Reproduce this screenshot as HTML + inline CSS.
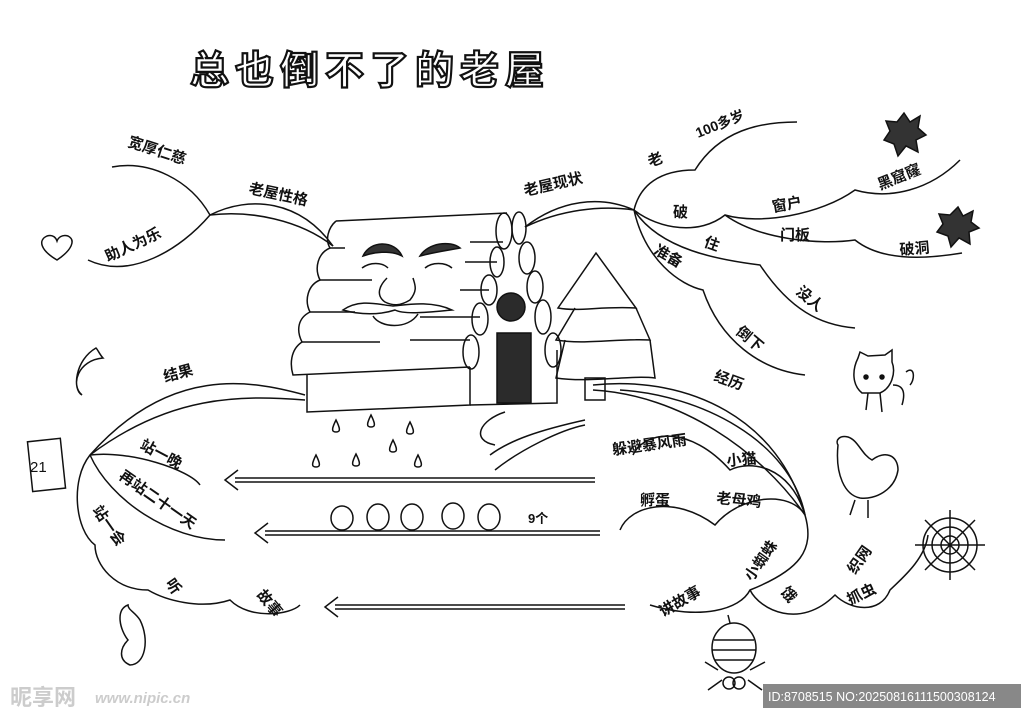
<!DOCTYPE html>
<html><head><meta charset="utf-8"><style>
html,body{margin:0;padding:0;background:#fff}
svg{display:block}
text{font-family:"Liberation Sans","Noto Sans CJK SC",sans-serif;font-weight:bold;font-size:15px;fill:#111}
</style></head><body>
<svg width="1024" height="724" viewBox="0 0 1024 724" xmlns="http://www.w3.org/2000/svg">
<rect width="1024" height="724" fill="#fff"/>
<g fill="none" stroke="#111" stroke-width="1.5">
<!-- title -->
<text x="190" y="84" style="font-size:39px;fill:#fff;stroke:#111;stroke-width:2.2;letter-spacing:6px">总也倒不了的老屋</text>

<!-- left top branches -->
<path d="M333,246 C300,200 250,195 210,215"/>
<path d="M333,246 C300,220 250,210 210,215"/>
<path d="M210,215 C190,180 150,160 112,167"/>
<path d="M210,215 C180,250 130,280 88,260"/>
<path d="M57,260 C40,250 38,240 47,236 C53,234 56,238 57,241 C58,238 62,234 68,236 C76,240 72,250 57,260Z"/>

<!-- house roof -->
<path d="M336,221 L507,213"/>
<path d="M336,221 C328,228 325,240 330,248 C318,253 314,268 320,280 C308,285 304,300 310,312 C298,318 296,330 302,342 C290,350 290,365 293,375 L470,367"/>
<path d="M330,248 L345,248 M320,280 L372,280 M310,312 L355,312 M302,342 L380,342 M470,340 L410,340 M480,317 L420,317 M489,290 L460,290 M497,262 L465,262 M503,242 L470,242"/>
<path d="M307,375 L307,412 L470,405 L470,367"/>
<path d="M470,405 L557,403 L557,350"/>
<g>
<ellipse cx="504" cy="231" rx="8" ry="18"/><ellipse cx="497" cy="262" rx="7" ry="15"/><ellipse cx="489" cy="290" rx="8" ry="15"/><ellipse cx="480" cy="319" rx="8" ry="16"/><ellipse cx="471" cy="352" rx="8" ry="17"/>
<ellipse cx="519" cy="228" rx="7" ry="16"/><ellipse cx="527" cy="258" rx="8" ry="16"/><ellipse cx="535" cy="287" rx="8" ry="16"/><ellipse cx="543" cy="317" rx="8" ry="17"/><ellipse cx="553" cy="350" rx="8" ry="17"/>
</g>
<rect x="497" y="333" width="34" height="70" fill="#2b2b2b"/>
<circle cx="511" cy="307" r="14" fill="#2b2b2b"/>
<path d="M363,256 C370,240 395,240 402,256 C395,252 380,250 363,256Z" fill="#333"/>
<path d="M420,256 C428,243 450,240 460,248 C450,250 435,252 420,256Z" fill="#333"/>
<path d="M362,268 C370,262 382,262 388,268 M425,268 C432,262 445,262 452,268"/>
<path d="M387,278 C380,285 375,295 385,302 C393,306 400,306 410,300 C418,290 415,285 413,278"/>
<path d="M343,310 C360,298 380,305 393,306 C405,305 430,300 452,310 C430,312 405,315 395,310 C380,315 360,315 343,310Z"/>
<path d="M373,316 C380,328 408,330 418,314"/>
<!-- tree -->
<path d="M596,253 L558,308 C580,312 600,306 636,308 Z"/>
<path d="M575,308 L556,340 C585,345 620,338 650,340 L636,308"/>
<path d="M565,340 L556,378 C590,383 630,375 655,378 L650,340"/>
<rect x="585" y="378" width="20" height="22"/>

<!-- 老屋现状 -->
<path d="M525,227 C560,200 600,195 634,210"/>
<path d="M525,227 C560,210 600,205 634,210"/>
<path d="M634,210 C640,185 660,170 695,170 C720,130 760,122 797,122"/>
<path d="M634,210 C660,230 700,235 725,215 C760,225 820,215 855,190 C890,200 930,190 960,160"/>
<path d="M725,215 C760,240 820,245 855,240 C880,260 920,260 962,253"/>
<path d="M634,210 C660,250 720,260 760,265 C790,310 820,325 855,328"/>
<path d="M634,210 C645,260 680,285 703,290 C720,340 760,370 805,375"/>
<path d="M904,113 L910,122 L920,116 L918,128 L926,135 L916,140 L918,152 L906,146 L898,156 L894,144 L884,140 L890,131 L886,121 L897,122Z" fill="#333"/>
<path d="M958,207 L963,216 L973,211 L971,222 L979,228 L969,232 L970,244 L959,238 L951,247 L948,236 L937,232 L943,224 L939,214 L950,215Z" fill="#333"/>

<!-- bottom left cloud -->
<path d="M305,395 C250,380 170,365 90,455"/>
<path d="M305,400 C240,395 170,395 90,455"/>
<path d="M90,455 C70,480 75,530 95,545 C95,565 115,590 148,590 C165,600 200,610 230,600 C250,620 290,615 300,605"/>
<path d="M90,455 C130,450 190,470 200,485"/>
<path d="M90,455 C110,500 170,540 225,540"/>
<path d="M96,348 C75,360 72,390 82,395 C70,385 78,360 103,358 C100,355 98,350 96,348Z"/>
<rect x="30" y="440" width="33" height="50" transform="rotate(-6 46 465)"/>
<path d="M128,605 C115,610 120,630 128,640 C120,648 118,660 130,665 C145,665 150,640 140,620 C135,612 128,610 128,605Z"/>

<!-- arrows -->
<path d="M595,478 L235,478 M595,482 L235,482 M238,470 L225,480 L238,490"/>
<path d="M600,531 L265,531 M600,535 L265,535 M268,523 L255,533 L268,543"/>
<path d="M625,605 L335,605 M625,609 L335,609 M338,597 L325,607 L338,617"/>
<!-- drops -->
<path d="M336,420 c-4,8 -5,12 0,12 c5,0 4,-4 0,-12Z M371,415 c-4,8 -5,12 0,12 c5,0 4,-4 0,-12Z M410,422 c-4,8 -5,12 0,12 c5,0 4,-4 0,-12Z M393,440 c-4,8 -5,12 0,12 c5,0 4,-4 0,-12Z M316,455 c-4,8 -5,12 0,12 c5,0 4,-4 0,-12Z M356,454 c-4,8 -5,12 0,12 c5,0 4,-4 0,-12Z M418,455 c-4,8 -5,12 0,12 c5,0 4,-4 0,-12Z"/>
<path d="M505,412 C480,420 470,440 495,445 M490,455 C510,440 540,430 585,420 M495,470 C520,450 560,430 585,425"/>
<g><ellipse cx="342" cy="518" rx="11" ry="12"/><ellipse cx="378" cy="517" rx="11" ry="13"/><ellipse cx="412" cy="517" rx="11" ry="13"/><ellipse cx="453" cy="516" rx="11" ry="13"/><ellipse cx="489" cy="517" rx="11" ry="13"/></g>

<!-- right cloud -->
<path d="M593,385 C690,375 780,420 805,515"/>
<path d="M593,390 C680,395 760,450 805,515"/>
<path d="M620,390 C700,395 790,440 805,515"/>
<path d="M633,455 C645,430 690,425 730,470 C750,460 790,465 805,515"/>
<path d="M620,530 C630,505 675,495 715,525 C740,495 790,490 805,515"/>
<path d="M805,515 C815,550 800,570 750,590 C740,610 700,620 650,605"/>
<path d="M750,590 C760,610 800,630 835,595 C850,610 880,615 890,590 C900,580 925,560 928,535"/>
<!-- cat -->
<path d="M858,358 L860,352 L868,356 L885,355 L892,350 L892,362 C896,372 892,388 880,393 L862,393 C852,385 852,370 858,358Z"/>
<circle cx="866" cy="377" r="2" fill="#111"/><circle cx="882" cy="377" r="2" fill="#111"/>
<path d="M868,393 L866,410 M880,393 L882,412 M893,385 C905,385 905,395 902,405 M906,372 C915,365 915,380 910,385"/>
<!-- chicken -->
<path d="M838,445 C835,440 840,435 848,437 C858,440 862,455 872,460 C885,450 898,455 898,470 C895,490 875,500 860,498 C845,495 835,475 838,445Z M855,500 L850,515 M868,500 L868,518"/>
<g transform="translate(950,545)"><circle r="27"/><circle r="18"/><circle r="9"/><path d="M-35,0 L35,0 M0,-35 L0,35 M-25,-25 L25,25 M-25,25 L25,-25"/></g>
<ellipse cx="734" cy="648" rx="22" ry="25"/><path d="M714,640 L754,640 M712,650 L756,650 M715,660 L753,660 M730,623 L728,615"/>
<circle cx="729" cy="683" r="6"/><circle cx="739" cy="683" r="6"/>
<path d="M718,670 L705,662 M750,670 L765,662 M722,680 L708,690 M748,680 L762,690"/>
</g>

<!-- labels -->
<text x="127" y="146" transform="rotate(18 127 146)">宽厚仁慈</text>
<text x="108" y="262" transform="rotate(-25 108 262)">助人为乐</text>
<text x="248" y="193" transform="rotate(12 248 193)">老屋性格</text>
<text x="525" y="196" transform="rotate(-13 525 196)">老屋现状</text>
<text x="650" y="167" transform="rotate(-20 650 167)">老</text>
<text x="698" y="138" transform="rotate(-22 698 138)" style="font-size:14px">100多岁</text>
<text x="673" y="217">破</text>
<text x="773" y="212" transform="rotate(-10 773 212)">窗户</text>
<text x="880" y="190" transform="rotate(-22 880 190)">黑窟窿</text>
<text x="780" y="240">门板</text>
<text x="900" y="255" transform="rotate(-5 900 255)">破洞</text>
<text x="703" y="246" transform="rotate(20 703 246)">住</text>
<text x="653" y="253" transform="rotate(30 653 253)">准备</text>
<text x="795" y="293" transform="rotate(40 795 293)">没人</text>
<text x="735" y="333" transform="rotate(40 735 333)">倒下</text>
<text x="713" y="380" transform="rotate(20 713 380)">经历</text>
<text x="165" y="382" transform="rotate(-15 165 382)">结果</text>
<text x="139" y="448" transform="rotate(28 139 448)">站一晚</text>
<text x="118" y="478" transform="rotate(35 118 478)">再站二十一天</text>
<text x="92" y="510" transform="rotate(55 92 510)">站一会</text>
<text x="165" y="583" transform="rotate(55 165 583)">听</text>
<text x="256" y="595" transform="rotate(50 256 595)">故事</text>
<text x="613" y="455" transform="rotate(-8 613 455)">躲避暴风雨</text>
<text x="727" y="466" transform="rotate(-5 727 466)">小猫</text>
<text x="640" y="505">孵蛋</text>
<text x="716" y="503" transform="rotate(5 716 503)">老母鸡</text>
<text x="528" y="523" style="font-size:13px">9个</text>
<text x="663" y="617" transform="rotate(-30 663 617)">讲故事</text>
<text x="752" y="582" transform="rotate(-55 752 582)">小蜘蛛</text>
<text x="780" y="592" transform="rotate(50 780 592)">饿</text>
<text x="855" y="575" transform="rotate(-55 855 575)">织网</text>
<text x="850" y="605" transform="rotate(-25 850 605)">抓虫</text>
<text x="30" y="472" style="font-size:15px;font-weight:normal">21</text>

<!-- watermarks -->
<text x="10" y="705" style="font-size:22px;fill:#ccc;font-weight:bold">昵享网</text>
<text x="95" y="703" style="font-size:15px;fill:#ccc;font-style:italic">www.nipic.cn</text>
<rect x="763" y="684" width="258" height="24" fill="#888"/>
<text x="768" y="701" style="font-size:12.5px;fill:#fff;font-weight:normal">ID:8708515 NO:20250816111500308124</text>
</svg>
</body></html>
